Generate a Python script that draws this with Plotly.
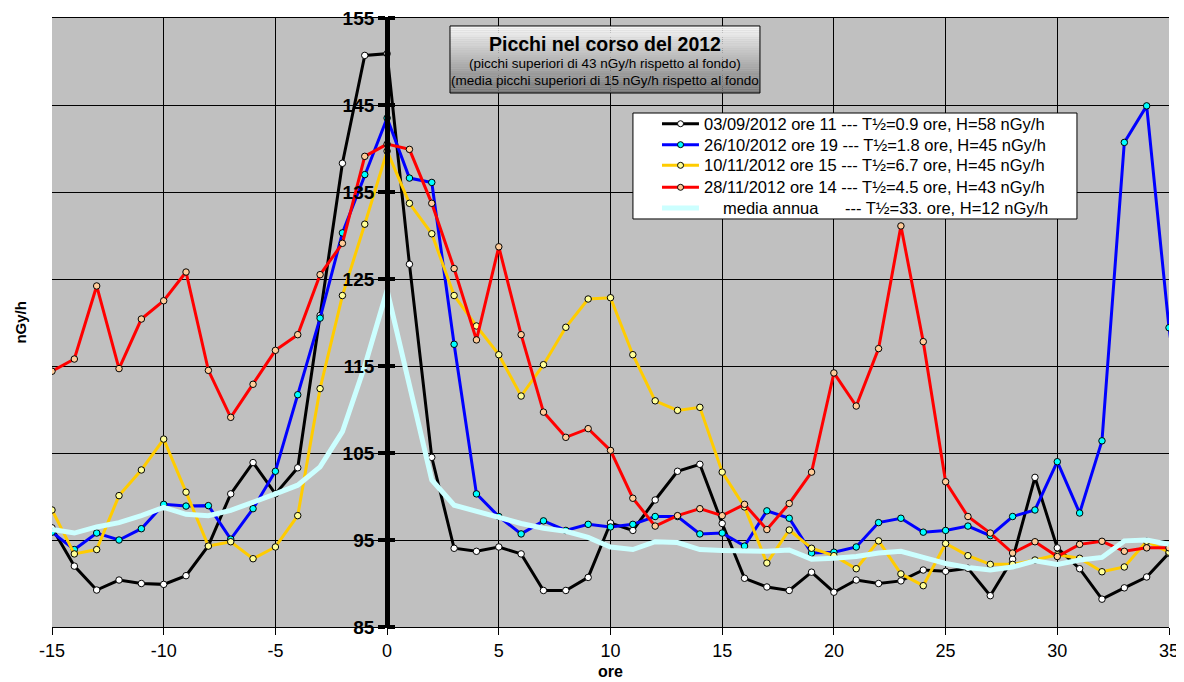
import plotly.graph_objects as go

hours = list(range(-15, 36))

black_0309 = [96.4, 92.0, 89.25, 90.4, 90.0, 89.9, 90.9, 94.35, 100.3, 103.9,
              100.3, 103.3, 120.8, 138.3, 150.7, 150.9, 126.7, 104.5, 94.05, 93.7,
              94.2, 93.4, 89.2, 89.2, 90.7, 96.95, 96.1, 99.6, 102.9, 103.7,
              96.9, 90.6, 89.6, 89.2, 91.3, 89.0, 90.4, 90.0, 90.3, 91.55,
              91.4, 91.75, 88.6, 92.8, 102.2, 94.1, 91.7, 88.2, 89.5, 90.75, 93.5]

blue_2610 = [95.9, 93.9, 95.8, 95.0, 96.3, 99.1, 98.9, 98.95, 95.1, 98.6,
             102.9, 111.7, 120.5, 130.3, 137.0, 143.5, 136.6, 136.1, 117.5, 100.3,
             97.7, 95.7, 97.2, 96.1, 96.8, 96.5, 96.8, 97.7, 97.7, 95.7,
             95.8, 94.3, 98.35, 97.5, 93.5, 93.6, 94.2, 97.0, 97.5, 95.9,
             96.1, 96.6, 95.5, 97.7, 98.45, 104.0, 98.1, 106.4, 140.7, 144.9, 119.4, 101.0]

yellow_1011 = [98.45, 93.4, 93.9, 100.1, 103.05, 106.6, 100.5, 94.3, 94.8, 92.85,
               94.2, 97.8, 112.4, 123.1, 131.3, 139.7, 133.7, 130.2, 123.1, 119.6,
               116.3, 111.55, 115.15, 119.45, 122.7, 122.85, 116.3, 111.0, 109.9, 110.25,
               102.8, 98.8, 92.35, 96.15, 94.05, 93.2, 91.7, 94.9, 91.1, 89.75,
               94.6, 93.2, 92.2, 92.2, 92.7, 93.3, 92.9, 91.35, 91.9, 94.85, 93.6]

red_2811 = [114.4, 115.8, 124.2, 114.7, 120.4, 122.5, 125.8, 114.5, 109.1, 112.9,
            116.8, 118.6, 125.5, 129.1, 139.1, 140.5, 139.9, 133.7, 126.2, 118.0,
            128.7, 118.6, 109.7, 106.8, 107.8, 105.3, 99.8, 96.6, 97.8, 98.6,
            97.8, 99.1, 96.2, 99.2, 102.8, 114.2, 110.4, 117.0, 131.1, 117.8,
            101.7, 97.7, 95.8, 93.5, 94.8, 93.1, 94.5, 94.85, 93.7, 94.1, 94.1]

media_annua = [96.2, 95.8, 96.5, 97.0, 97.8, 98.75, 97.95, 97.8, 98.4, 99.3,
               100.3, 101.3, 103.4, 107.45, 115.0, 123.7, 112.6, 101.9, 99.0, 98.3,
               97.6, 96.9, 96.35, 96.0, 95.3, 94.2, 93.9, 94.8, 94.7, 93.9,
               93.8, 93.7, 93.7, 93.85, 92.8, 92.9, 93.1, 93.5, 93.7, 93.0,
               92.3, 91.85, 91.55, 91.9, 92.6, 92.2, 92.7, 93.0, 94.9, 95.0, 94.5]

names = [
    "03/09/2012 ore 11 --- T½=0.9 ore, H=58 nGy/h",
    "26/10/2012 ore 19 --- T½=1.8 ore, H=45 nGy/h",
    "10/11/2012 ore 15 --- T½=6.7 ore, H=45 nGy/h",
    "28/11/2012 ore 14 --- T½=4.5 ore, H=43 nGy/h",
    "media annua",
]
media_suffix = "--- T½=33. ore, H=12 nGy/h"

title_lines = ["Picchi nel corso del 2012",
               "(picchi superiori di 43 nGy/h rispetto al fondo)",
               "(media picchi superiori di 15 nGy/h rispetto al fondo"]

x_ticks = list(range(-15, 36, 5))
y_ticks = list(range(85, 156, 10))

line_colors = ["#000000", "#0000ff", "#ffcc00", "#ff0000", "#ccffff"]
marker_fills = ["#ffffff", "#00ffff", "#ffff99", "#ffcc99", None]

fig = go.Figure()

blue_hours = list(range(-15, 37))
for vals, col, mfill, nm in zip([black_0309, blue_2610, yellow_1011, red_2811],
                                line_colors[:4], marker_fills[:4], names[:4]):
    xs = blue_hours if len(vals) == len(blue_hours) else hours
    fig.add_trace(go.Scatter(
        x=xs, y=vals, name=nm, mode="lines+markers", showlegend=False,
        line=dict(color=col, width=3),
        marker=dict(symbol="circle", size=6.5, color=mfill,
                    line=dict(color="#000000", width=1)),
    ))

fig.add_trace(go.Scatter(
    x=hours, y=media_annua, name=names[4], mode="lines", showlegend=False,
    line=dict(color=line_colors[4], width=5),
))

fig.add_trace(go.Scatter(x=[None], y=[None], yaxis="y2", showlegend=False,
                         hoverinfo="skip"))

font_main = "Liberation Sans, Arial, sans-serif"

# page has an 8px body margin, so the figure is drawn 8px smaller
fig.update_layout(
    width=1176, height=674,
    margin=dict(l=44, r=15, t=10, b=55, autoexpand=False),
    paper_bgcolor="#ffffff",
    plot_bgcolor="#c0c0c0",
    showlegend=False,
    xaxis=dict(
        range=[-15, 35], tickvals=x_ticks, ticktext=[str(v) for v in x_ticks],
        showgrid=True, gridcolor="#000000", gridwidth=1,
        ticks="outside", ticklen=7, tickcolor="#000000", tickwidth=1,
        showline=True, linecolor="#000000", linewidth=1, mirror=True,
        zeroline=False, automargin=False, ticklabeloverflow="allow",
        tickfont=dict(family="Liberation Sans Narrow, Arial Narrow, sans-serif",
                      size=18, color="#000000"),
        title=dict(text="ore", font=dict(family=font_main, size=16,
                                         color="#000000", weight="bold"),
                   standoff=6),
    ),
    yaxis=dict(
        range=[85, 155], tickvals=y_ticks, ticktext=[str(v) for v in y_ticks],
        anchor="free", position=0.3, side="left",
        showgrid=True, gridcolor="#000000", gridwidth=1,
        ticks="outside", ticklen=7, tickwidth=4, tickcolor="#000000",
        showline=True, linecolor="#000000", linewidth=5,
        zeroline=False, automargin=False, ticklabeloverflow="allow",
        tickfont=dict(family=font_main, size=19, color="#000000", weight="bold"),
        title=dict(text=""),
    ),
    yaxis2=dict(
        range=[85, 155], tickvals=y_ticks, overlaying="y",
        anchor="free", position=0.3, side="right",
        showgrid=False, showticklabels=False,
        ticks="outside", ticklen=7, tickwidth=4, tickcolor="#000000",
        showline=False, zeroline=False, automargin=False,
    ),
)

fig.add_annotation(
    text="<b>nGy/h</b>", xref="paper", yref="paper", x=-0.0286, y=0.5,
    xanchor="center", yanchor="middle",
    textangle=-90, showarrow=False,
    font=dict(family=font_main, size=15, color="#000000"),
)

# ---- title box with vertical gradient ----
bx0, bx1, by0, by1 = 0.3563, 0.6338, 0.8768, 0.9869
n = 30
for i in range(n):
    t = i / (n - 1)
    c = int(246 - t * (246 - 120))
    fig.add_shape(type="rect", xref="paper", yref="paper",
                  x0=bx0, x1=bx1,
                  y0=by1 - (i + 1) * (by1 - by0) / n,
                  y1=by1 - i * (by1 - by0) / n,
                  line=dict(width=0), fillcolor=f"rgb({c},{c},{c})",
                  layer="above")
fig.add_shape(type="rect", xref="paper", yref="paper",
              x0=bx0, x1=bx1, y0=by0, y1=by1,
              line=dict(color="#000000", width=1), layer="above")

cx = (bx0 + bx1) / 2
fig.add_annotation(text="<b>" + title_lines[0] + "</b>", xref="paper", yref="paper",
                   x=cx, y=0.957, showarrow=False, xanchor="center", yanchor="middle",
                   font=dict(family=font_main, size=19.5, color="#000000"))
fig.add_annotation(text=title_lines[1], xref="paper", yref="paper",
                   x=cx, y=0.926, showarrow=False, xanchor="center", yanchor="middle",
                   font=dict(family=font_main, size=13.5, color="#000000"))
fig.add_annotation(text=title_lines[2], xref="paper", yref="paper",
                   x=cx, y=0.898, showarrow=False, xanchor="center", yanchor="middle",
                   font=dict(family=font_main, size=13.5, color="#000000"))

# ---- legend box ----
lx0, lx1, ly0, ly1 = 0.5201, 0.9176, 0.670, 0.844
fig.add_shape(type="rect", xref="paper", yref="paper",
              x0=lx0, x1=lx1, y0=ly0, y1=ly1,
              line=dict(color="#000000", width=1), fillcolor="#ffffff",
              layer="above")
row_y = [0.8264, 0.7920, 0.7581, 0.7220, 0.6880]
sym_x0, sym_x1, sym_xm, text_x = 0.5461, 0.5792, 0.5627, 0.5819
for i in range(5):
    fig.add_shape(type="line", xref="paper", yref="paper",
                  x0=sym_x0, x1=sym_x1, y0=row_y[i], y1=row_y[i],
                  line=dict(color=line_colors[i], width=3 if i < 4 else 5),
                  layer="above")
    if marker_fills[i] is not None:
        fig.add_shape(type="circle", xref="paper", yref="paper",
                      xsizemode="pixel", ysizemode="pixel",
                      xanchor=sym_xm, yanchor=row_y[i],
                      x0=-3, x1=3, y0=-3, y1=3,
                      fillcolor=marker_fills[i],
                      line=dict(color="#000000", width=1), layer="above")
    if i < 4:
        fig.add_annotation(text=names[i], xref="paper", yref="paper",
                           x=text_x, y=row_y[i], xanchor="left", yanchor="middle",
                           showarrow=False,
                           font=dict(family=font_main, size=16.5, color="#000000"))
fig.add_annotation(text=names[4], xref="paper", yref="paper",
                   x=0.5989, y=row_y[4], xanchor="left", yanchor="middle",
                   showarrow=False,
                   font=dict(family=font_main, size=16.5, color="#000000"))
fig.add_annotation(text=media_suffix, xref="paper", yref="paper",
                   x=0.7081, y=row_y[4], xanchor="left", yanchor="middle",
                   showarrow=False,
                   font=dict(family=font_main, size=16.5, color="#000000"))

fig.write_html("out.html")
